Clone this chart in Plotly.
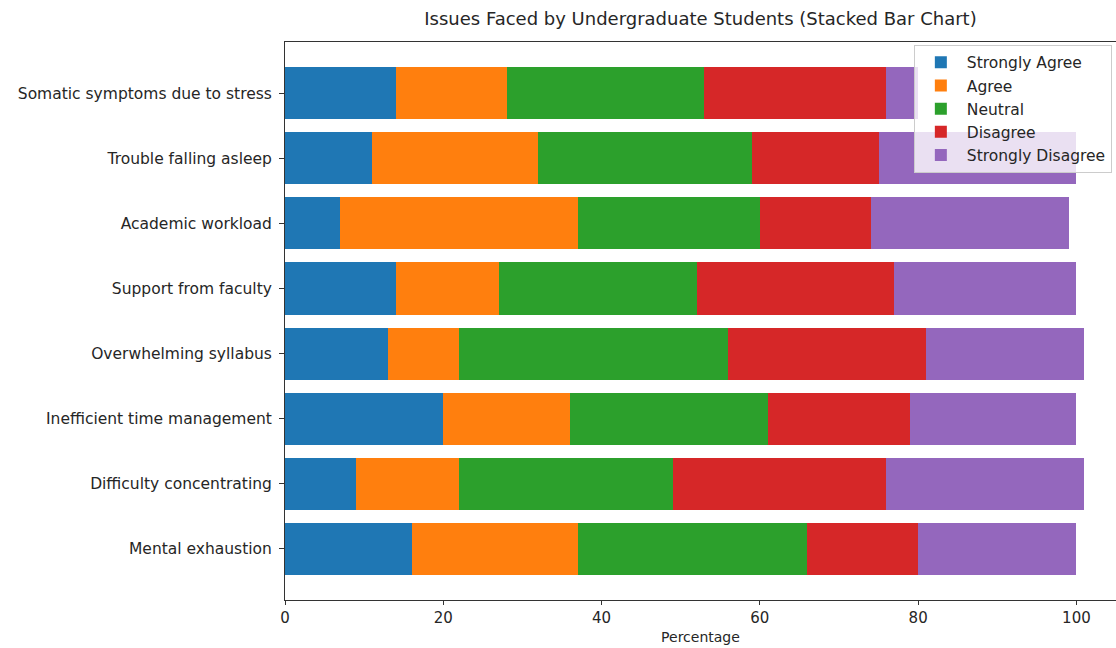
import plotly.graph_objects as go

categories = [
    "Mental exhaustion",
    "Difficulty concentrating",
    "Inefficient time management",
    "Overwhelming syllabus",
    "Support from faculty",
    "Academic workload",
    "Trouble falling asleep",
    "Somatic symptoms due to stress",
]

strongly_agree = [16, 9, 20, 13, 14, 7, 11, 14]
agree = [21, 13, 16, 9, 13, 30, 21, 14]
neutral = [29, 27, 25, 34, 25, 23, 27, 25]
disagree = [14, 27, 18, 25, 25, 14, 16, 23]
strongly_disagree = [20, 25, 21, 20, 23, 25, 25, 4]

series_names = ["Strongly Agree", "Agree", "Neutral", "Disagree", "Strongly Disagree"]
series_values = [strongly_agree, agree, neutral, disagree, strongly_disagree]
colors = ["#1f77b4", "#ff7f0e", "#2ca02c", "#d62728", "#9467bd"]

x_ticks = [0, 20, 40, 60, 80, 100]

fig = go.Figure()
for i, (name, vals, col) in enumerate(zip(series_names, series_values, colors)):
    fig.add_trace(go.Bar(
        y=categories, x=vals, name=name, orientation="h",
        legendgroup=f"g{i}",
        marker=dict(color=col, line=dict(width=0)),
    ))

font_family = "DejaVu Sans, sans-serif"
fig.update_layout(
    barmode="stack",
    bargap=0.2,
    width=1116, height=648,
    margin=dict(l=285, r=0, t=42, b=48),
    paper_bgcolor="white",
    plot_bgcolor="white",
    font=dict(family=font_family, size=15, color="#262626"),
    title=dict(
        text="Issues Faced by Undergraduate Students (Stacked Bar Chart)",
        x=0.5, xanchor="center", xref="paper",
        y=1 - 19 / 648, yanchor="middle", yref="container",
        font=dict(size=18, color="#262626", family=font_family),
    ),
    legend=dict(
        x=0.995, xanchor="right", y=0.995, yanchor="top",
        bgcolor="rgba(255,255,255,0.8)",
        bordercolor="#cccccc", borderwidth=1,
        font=dict(size=15.5, family=font_family),
        traceorder="grouped",
        tracegroupgap=0,
        itemwidth=42,
    ),
    showlegend=True,
)
fig.update_xaxes(
    range=[0, 105.0],
    tickvals=x_ticks,
    ticktext=[str(v) for v in x_ticks],
    ticks="outside", ticklen=4, tickcolor="#333333",
    showline=True, linecolor="#333333", linewidth=1, mirror=True,
    showgrid=False, zeroline=False,
    title=dict(text="Percentage", font=dict(size=14, family=font_family), standoff=6),
    tickfont=dict(size=15, family=font_family),
)
fig.update_yaxes(
    range=[-0.79, 7.79],
    ticks="outside", ticklen=5, tickcolor="#333333",
    ticklabelstandoff=4,
    showline=True, linecolor="#333333", linewidth=1,
    showgrid=False, zeroline=False,
    tickfont=dict(size=15.5, family=font_family),
)

fig.write_html("out.html")
